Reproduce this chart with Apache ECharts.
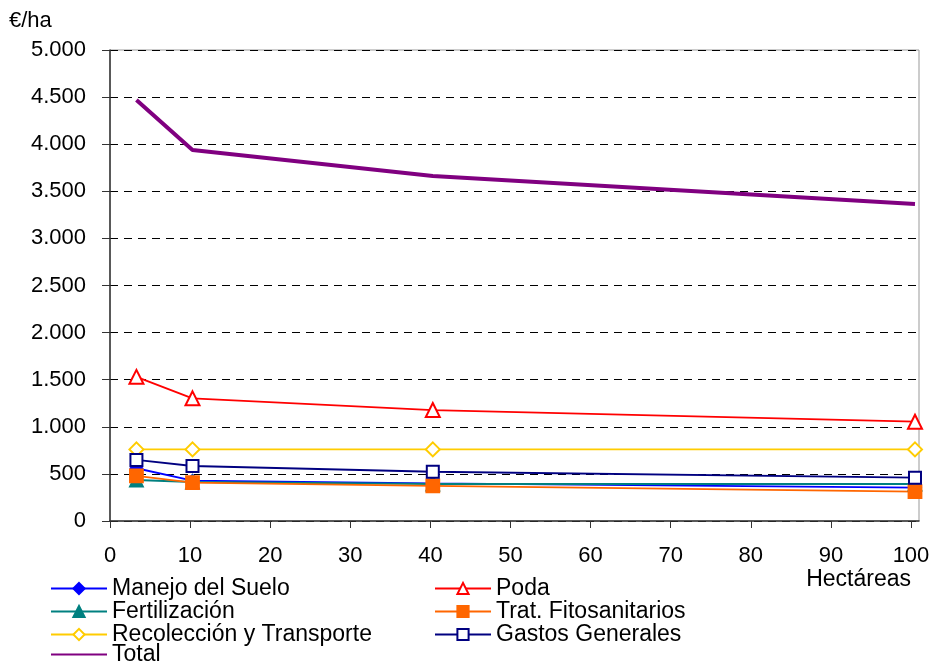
<!DOCTYPE html>
<html><head><meta charset="utf-8">
<script src="https://cdn.jsdelivr.net/npm/echarts@6/dist/echarts.min.js"></script>
<style>html,body{margin:0;padding:0;background:#fff}#c{width:939px;height:664px}</style>
</head><body><div id="c"></div>
<script>
const hectareas = [3.3, 10.3, 40.3, 100.5];
const manejo = [560, 428, 400, 354];
const poda = [1530, 1302, 1178, 1054];
const fertilizacion = [435, 414, 393, 393];
const tratFito = [478, 407, 372, 311];
const recoleccion = [760, 760, 760, 760];
const gastos = [648, 584, 523, 460];
const total = [4470, 3938, 3662, 3365];
const xTicks = [0,10,20,30,40,50,60,70,80,90,100];

const font = 'Liberation Sans, Arial, sans-serif';
function pairs(v){ return hectareas.map((x,i)=>[x, v[i]]); }
function s(name, data, color, symbol, size, lw){
  return {name, type:'line', data:pairs(data), symbol, symbolSize:size, showSymbol: symbol!=='none',
    lineStyle:{color, width:lw||1.8}, itemStyle:{color, borderColor:color, borderWidth:1.8},
    emphasis:{disabled:true}, animation:false};
}
const legendText = {fontSize:23, fontFamily:font, color:'#000', lineHeight:22};
const legendBase = {padding:0, orient:'vertical', itemGap:0, itemWidth:56, itemHeight:14, textStyle:legendText};
const chart = echarts.init(document.getElementById('c'));
chart.setOption({
  animation:false,
  grid:{left:110, right:20, top:50, bottom:143, show:true, borderColor:'#999', borderWidth:1},
  xAxis:{type:'value', min:0, max:101,
    axisLine:{lineStyle:{color:'#333', width:1.5}},
    axisTick:{show:true, length:7, inside:false, customValues:xTicks, lineStyle:{color:'#333'}},
    axisLabel:{customValues:xTicks, color:'#000', fontSize:22, fontFamily:font, margin:24},
    splitLine:{show:false}},
  yAxis:{type:'value', min:0, max:5000, interval:500,
    axisLine:{show:true, lineStyle:{color:'#333', width:1.5}},
    axisTick:{show:true, length:8, lineStyle:{color:'#333'}},
    axisLabel:{color:'#000', fontSize:22, fontFamily:font, margin:24,
      formatter:v=> v>=1000 ? Math.floor(v/1000)+'.'+String(v%1000).padStart(3,'0') : String(v)},
    splitLine:{show:true, lineStyle:{color:'#000', type:[8,6], width:1}}},
  graphic:[
    {type:'text', left:9, top:10, style:{text:'€/ha', fontSize:22, fontFamily:font, fill:'#000'}},
    {type:'text', right:28, top:568, style:{text:'Hectáreas', fontSize:23, fontFamily:font, fill:'#000'}}
  ],
  legend:[
    Object.assign({left:50, top:577, data:['Manejo del Suelo','Fertilización','Recolección y Transporte']}, legendBase),
    Object.assign({left:50, top:643, data:[{name:'Total', itemStyle:{opacity:0}}]}, legendBase),
    Object.assign({left:434, top:577, data:['Poda','Trat. Fitosanitarios','Gastos Generales']}, legendBase)
  ],
  series:[
    s('Manejo del Suelo', manejo, '#0000FF', 'diamond', 12),
    s('Poda', poda, '#FF0000', 'emptyTriangle', 14),
    s('Fertilización', fertilizacion, '#008080', 'triangle', 13),
    s('Trat. Fitosanitarios', tratFito, '#FF6600', 'rect', 13),
    s('Recolección y Transporte', recoleccion, '#FFCC00', 'emptyDiamond', 14),
    s('Gastos Generales', gastos, '#000080', 'emptyRect', 12),
    s('Total', total, '#800080', 'none', 0, 4)
  ]
});
</script></body></html>
